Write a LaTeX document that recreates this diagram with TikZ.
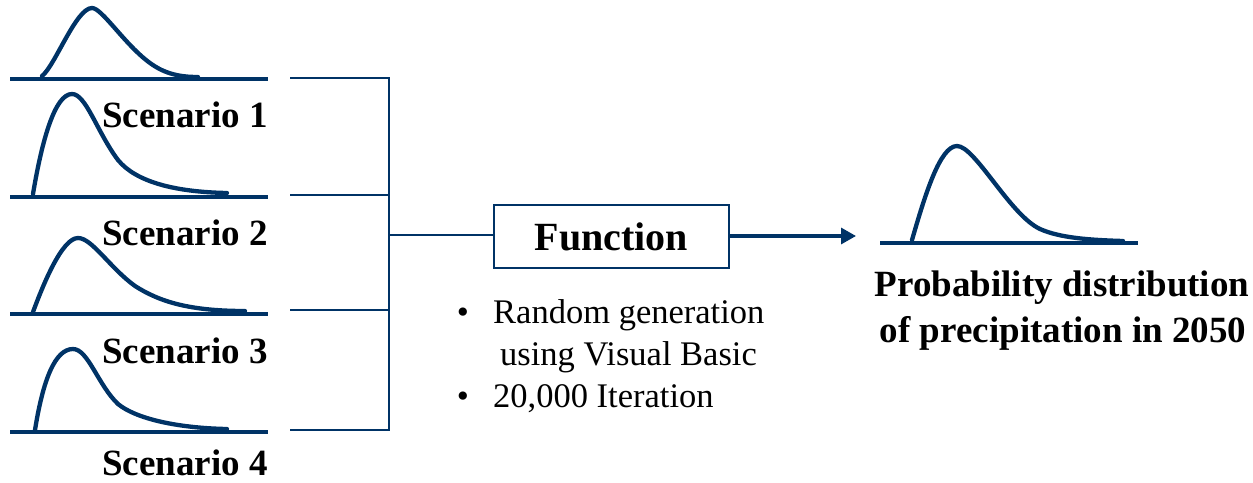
\documentclass[tikz,border=0pt]{standalone}
\usepackage{fontspec}
\setmainfont{Liberation Serif}
\usetikzlibrary{arrows.meta}
\definecolor{navy}{RGB}{0,51,102}
\tikzset{
  axisline/.style={navy, line width=4pt},
  pdfcurve/.style={navy, line width=4.3pt, line cap=round, line join=round},
  wire/.style={navy, line width=2.6pt},
  boldlabel/.style={font=\fontsize{37}{44}\selectfont\bfseries, inner sep=0pt},
  plainlabel/.style={font=\fontsize{34.5}{41}\selectfont, inner sep=0pt},
  funcbox/.style={draw=navy, line width=2pt, minimum width=235pt, minimum height=63pt,
                  font=\fontsize{40}{48}\selectfont\bfseries, inner sep=0pt},
}
\begin{document}
\begin{tikzpicture}[x=1pt,y=-1pt]
\useasboundingbox (0,0) rectangle (1253,482);

% scenario distributions
\draw[axisline] (10,79) -- (268,79);
\draw[pdfcurve] (42,76) .. controls (55,66) and (76,8) .. (92,8)
  .. controls (102,8) and (125,45) .. (150,63)
  .. controls (165,74) and (180,77) .. (198,77);
\draw[axisline] (10,197) -- (268,197);
\draw[pdfcurve] (33,194) .. controls (42,140) and (55,94) .. (72,94)
  .. controls (86,94) and (97,132) .. (118,160)
  .. controls (136,182) and (175,192) .. (227,193);
\draw[axisline] (10,314) -- (268,314);
\draw[pdfcurve] (33,312) .. controls (43,285) and (62,238) .. (78,238)
  .. controls (92,238) and (110,268) .. (135,286)
  .. controls (160,302) and (190,311) .. (245,311);
\draw[axisline] (10,432) -- (268,432);
\draw[pdfcurve] (35,430) .. controls (43,380) and (55,349) .. (73,349)
  .. controls (88,349) and (98,385) .. (118,404)
  .. controls (135,418) and (175,428) .. (227,429);

% scenario labels
\node[boldlabel, anchor=base east] (l1) at (268,127) {Scenario 1};
\node[boldlabel, anchor=base east] (l2) at (268,245) {Scenario 2};
\node[boldlabel, anchor=base east] (l3) at (268,363) {Scenario 3};
\node[boldlabel, anchor=base east] (l4) at (268,475) {Scenario 4};

% collecting bracket
\coordinate (s1) at (290,78);
\coordinate (s2) at (290,195);
\coordinate (s3) at (290,310);
\coordinate (s4) at (290,430);
\coordinate (j1) at (389,78);
\coordinate (j2) at (389,195);
\coordinate (j3) at (389,310);
\coordinate (j4) at (389,430);
\coordinate (jm) at (389,235);
\draw[wire] (s1) -- (j1) -- (j4) -- (s4);
\draw[wire] (s2) -- (j2);
\draw[wire] (s3) -- (j3);

% function block
\node[funcbox] (fn) at (611.5,236.5) {\raisebox{-3pt}{Function}};
\draw[wire] (jm) -- (jm -| fn.west);
\coordinate (tgt) at (856,236);
\draw[wire, line width=3.2pt, -{Triangle[length=15pt,width=16pt]}] (fn.east |- tgt) -- (tgt);

% notes under the block
\node[plainlabel, anchor=base] (b1) at (463,323) {•};
\node[plainlabel, anchor=base west] (t1) at (493,323) {Random generation};
\node[plainlabel, anchor=base west] (t2) at (500,365) {using Visual Basic};
\node[plainlabel, anchor=base] (b2) at (463,407) {•};
\node[plainlabel, anchor=base west] (t3) at (493,407) {20,000 Iteration};

% resulting distribution
\draw[axisline] (880,243) -- (1138,243);
\draw[pdfcurve] (912,240) .. controls (925,195) and (940,146) .. (957,146)
  .. controls (975,146) and (1010,215) .. (1040,229)
  .. controls (1060,238) and (1090,240) .. (1123,241);
\node[boldlabel, anchor=base] (r1) at (1062,296) {Probability distribution};
\node[boldlabel, anchor=base] (r2) at (1063,342) {of precipitation in 2050};
\end{tikzpicture}
\end{document}
